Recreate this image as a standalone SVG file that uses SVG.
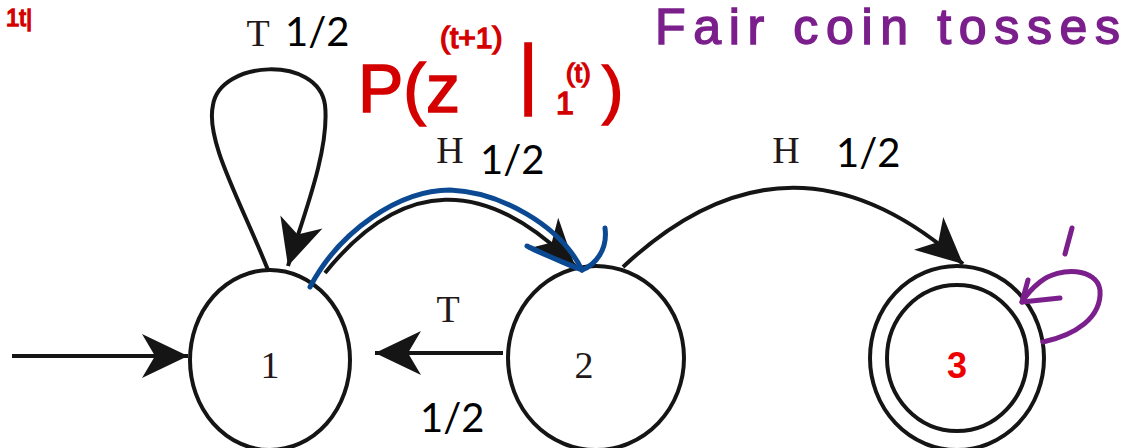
<svg xmlns="http://www.w3.org/2000/svg" width="1128" height="448" viewBox="0 0 1128 448">
<style>
.node{fill:none;stroke:#151515;stroke-width:4}
.edge{fill:none;stroke:#151515;stroke-width:4}
.serif{font-family:"Liberation Serif","Times New Roman",serif;fill:#231818;font-size:38px}
.prob{font-family:Lato,"Open Sans","Liberation Sans",sans-serif;fill:#000;font-size:40px}
.red{font-family:"Liberation Sans",Arial,sans-serif;fill:#d40000;stroke:#d40000;stroke-width:1.5}
.purple{font-family:"Liberation Sans",Arial,sans-serif;fill:#7b1f8c;stroke:#7b1f8c;stroke-width:1.5}
.blue{fill:none;stroke:#0b4a92;stroke-width:5;stroke-linecap:round;stroke-linejoin:round}
.pstroke{fill:none;stroke:#7b1f8c;stroke-width:5;stroke-linecap:round;stroke-linejoin:round}
</style>
<defs>
<marker id="arr" markerUnits="userSpaceOnUse" viewBox="-50 -30 60 60" markerWidth="60" markerHeight="60" refX="0" refY="0" orient="auto">
<path d="M0,0 L-46,-22 L-33,0 L-46,22 Z" fill="#151515"/>
</marker>
</defs>
<rect width="1128" height="448" fill="#fff"/>

<g id="connectors">
<path class="edge" d="M12,356 L188,356" marker-end="url(#arr)"/>
<path class="edge" d="M268,270 C240,200 205,140 213,105 C220,60 318,55 325,105 C330,150 302,220 288,266" marker-end="url(#arr)"/>
<path class="edge" d="M325,273 Q440,130 575,266" marker-end="url(#arr)"/>
<path class="edge" d="M503,353 L375,353" marker-end="url(#arr)"/>
<path class="edge" d="M623,267 Q790,110 963,264" marker-end="url(#arr)"/>
</g>

<g id="node1">
<ellipse class="node" cx="270" cy="360" rx="80" ry="90"/>
<text class="serif" x="270" y="378" text-anchor="middle">1</text>
</g>
<g id="node2">
<ellipse class="node" cx="596" cy="358" rx="88" ry="92"/>
<text class="serif" x="584" y="378" text-anchor="middle">2</text>
</g>
<g id="node3">
<ellipse class="node" cx="957" cy="358" rx="87" ry="92"/>
<ellipse class="node" cx="957" cy="358" rx="70" ry="73"/>
<text x="957" y="378" text-anchor="middle" font-family="Liberation Sans,Arial,sans-serif" font-weight="bold" font-size="36" fill="#ee0000">3</text>
</g>

<g id="labels">
<text class="serif" x="258" y="46" text-anchor="middle">T</text>
<text class="prob" x="285" y="46">1/2</text>
<text class="serif" x="450" y="163" text-anchor="middle">H</text>
<text class="prob" x="480" y="174">1/2</text>
<text class="serif" x="786" y="163" text-anchor="middle">H</text>
<text class="prob" x="836" y="167">1/2</text>
<text class="serif" x="448" y="322" text-anchor="middle">T</text>
<text class="prob" x="420" y="432">1/2</text>
</g>

<g id="annotations">
<text class="red" x="6" y="26" font-size="24">1t|</text>
<text class="red" x="358" y="112" font-size="68">P(z</text>
<text class="red" x="440" y="48" font-size="30">(t+1)</text>
<text class="red" x="518" y="100" font-size="78">|</text>
<text class="red" x="556" y="114" font-size="32">1</text>
<text class="red" x="566" y="82" font-size="26">(t)</text>
<text class="red" x="602" y="112" font-size="64">)</text>
<text class="purple" x="655" y="44" font-size="50" textLength="465" lengthAdjust="spacing">Fair coin tosses</text>
<path class="blue" d="M310,287 C340,230 400,190 450,190 C500,192 560,225 582,270"/>
<path class="blue" d="M605,228 C608,250 595,265 582,270"/>
<path class="blue" d="M582,270 C565,262 545,256 527,246 C540,252 560,262 582,270"/>
<path class="pstroke" d="M1043,342 C1075,335 1102,318 1100,290 C1097,268 1060,266 1040,282 C1030,290 1025,297 1022,302"/>
<path class="pstroke" d="M1028,280 L1022,302 L1060,298"/>
<path class="pstroke" d="M1072,228 L1065,254"/>
</g>
</svg>
